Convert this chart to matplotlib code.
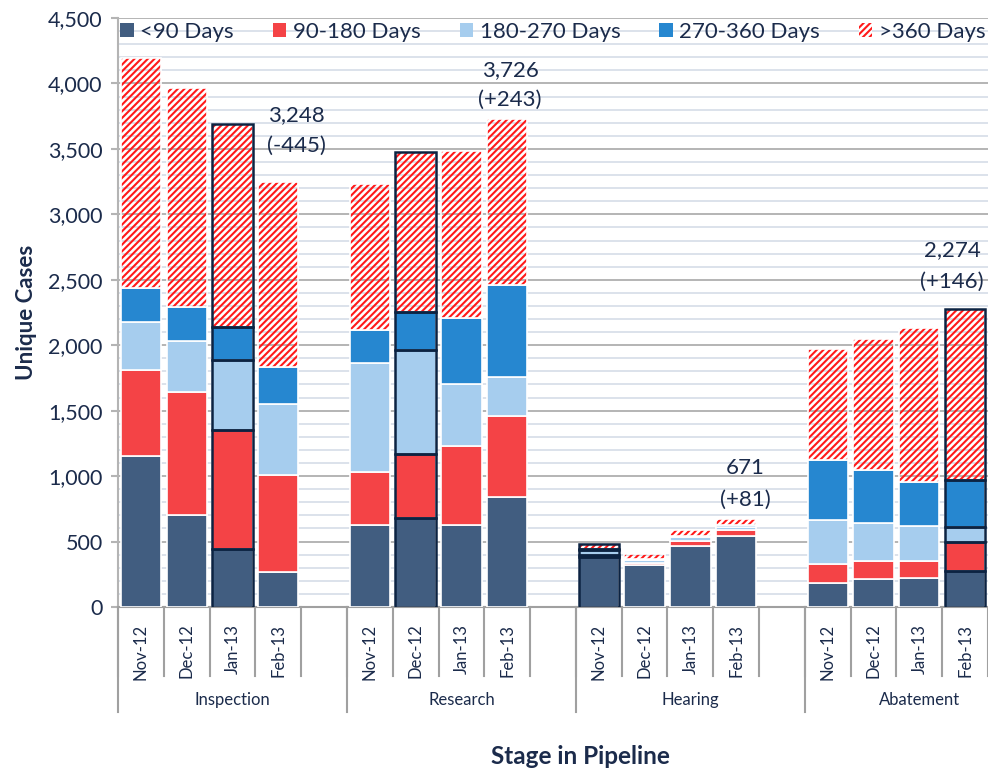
import matplotlib
matplotlib.use("Agg")
import matplotlib.pyplot as plt
import numpy as np
from matplotlib.patches import Patch

plt.rcParams['font.family'] = ['Lato', 'DejaVu Sans']
plt.rcParams['hatch.linewidth'] = 1.5

stages = ["Inspection", "Research", "Hearing", "Abatement"]
months = ["Nov-12", "Dec-12", "Jan-13", "Feb-13"]
series_names = ["<90 Days", "90-180 Days", "180-270 Days", "270-360 Days", ">360 Days"]

# values per stage, ordered Nov-12..Feb-13
lt90 = [1150, 702, 440, 268,   630, 681, 625, 839,   380, 321, 468, 540,   181, 214, 224, 275]
d90_180 = [657, 940, 910, 744,   400, 491, 605, 620,   15, 15, 40, 45,   145, 140, 130, 222]
d180_270 = [371, 394, 534, 539,   833, 791, 473, 300,   40, 20, 25, 25,   341, 288, 262, 116]
d270_360 = [262, 257, 254, 279,   252, 294, 503, 704,   10, 11, 12, 16,   458, 407, 336, 355]
gt360 = [1757, 1670, 1555, 1418,   1115, 1223, 1277, 1263,   34, 40, 45, 45,   848, 998, 1176, 1306]

# highlighted (outlined) bars: index into the 16 bars
highlighted = [2, 5, 8, 15]

# labels above the last month of each stage
label_totals = ["3,248", "3,726", "671", "2,274"]
label_changes = ["(-445)", "(+243)", "(+81)", "(+146)"]

colors = ["#415d80", "#f44346", "#a6cdee", "#2687d0", "#ff1a1a"]
navy = "#1b2b4b"
grid_major = "#b4b4b4"
grid_minor = "#d5dde8"
HATCH = "/////"

fig = plt.figure(figsize=(9.88, 7.72), dpi=100)
ax = fig.add_axes([118/988, (772-607)/772, 870/988, 589/772])

# slot positions: 5 slots per stage (4 months + gap)
pos = np.array([g*5 + m for g in range(len(stages)) for m in range(len(months))], dtype=float)
width = 0.88

data = [lt90, d90_180, d180_270, d270_360, gt360]
bottom = np.zeros(len(pos))
for i, vals in enumerate(data):
    vals = np.array(vals, dtype=float)
    if i < 4:
        ax.bar(pos, vals, width, bottom=bottom, color=colors[i], edgecolor="white",
               linewidth=1.2, zorder=3)
    else:
        ax.bar(pos, vals, width, bottom=bottom, facecolor="none", edgecolor=colors[i],
               hatch=HATCH, linewidth=0, zorder=3)
        ax.bar(pos, vals, width, bottom=bottom, facecolor="none", edgecolor="white",
               linewidth=1.2, zorder=3.5)
    # outlines for highlighted bars
    hp = pos[highlighted]
    ax.bar(hp, vals[highlighted], width, bottom=bottom[highlighted], facecolor="none",
           edgecolor="#0c2342", linewidth=1.8, zorder=4)
    bottom += vals

totals = bottom
# annotations
label_idx = [3, 7, 11, 15]
dx = [18, 3, 9, -13]
dy1 = [67, 49, 51, 59]
dy2 = [36, 19, 19, 27]
for k, bi in enumerate(label_idx):
    ax.annotate(label_totals[k], xy=(pos[bi], totals[bi]), xytext=(dx[k], dy1[k]),
                textcoords="offset pixels", ha="center", va="center", fontsize=16,
                color=navy, zorder=6)
    ax.annotate(label_changes[k], xy=(pos[bi], totals[bi]), xytext=(dx[k], dy2[k]),
                textcoords="offset pixels", ha="center", va="center", fontsize=16,
                color=navy, zorder=6)

ax.set_xlim(-0.5, 18.5)
ax.set_ylim(0, 4500)
ax.set_yticks(np.arange(0, 4501, 500))
ax.set_yticks(np.arange(0, 4501, 100), minor=True)
ax.set_yticklabels([f"{v:,}" for v in range(0, 4501, 500)], fontsize=15.5, color=navy)
ax.tick_params(axis="y", which="major", length=5, color=grid_major, width=1.5, pad=6)
ax.tick_params(axis="y", which="minor", length=0)
ax.grid(axis="y", which="major", color=grid_major, linewidth=1.4, zorder=0)
ax.grid(axis="y", which="minor", color=grid_minor, linewidth=1.2, zorder=0)
ax.set_axisbelow(True)

for s in ["top", "right"]:
    ax.spines[s].set_visible(False)
ax.spines["left"].set_color(grid_major)
ax.spines["left"].set_linewidth(1.5)
ax.spines["bottom"].set_color("#a0a0a0")
ax.spines["bottom"].set_linewidth(1.5)

ax.set_xticks(pos)
ax.set_xticklabels(months * len(stages), rotation=90, fontsize=12, color=navy,
                   va="top", ha="center")
ax.tick_params(axis="x", length=0, pad=12)

trans = ax.get_xaxis_transform()
h = 589.0
for b in np.arange(-0.5, 19, 1.0):
    ax.plot([b, b], [0, -69/h], transform=trans, color="#a0a0a0", lw=1.5, clip_on=False)
for b in np.arange(-0.5, 19, 5.0):
    ax.plot([b, b], [0, -105/h], transform=trans, color="#a0a0a0", lw=1.5, clip_on=False)
for g, st in enumerate(stages):
    ax.text(g*5 + 2.0, -93/h, st, transform=trans, ha="center", va="center",
            fontsize=12, color=navy)

ax.set_ylabel("Unique Cases", fontsize=16, fontweight="bold", color=navy, labelpad=8)
fig.text(580/988, 1 - 757/772, "Stage in Pipeline", ha="center", va="center",
         fontsize=17.5, fontweight="bold", color=navy)

handles = [Patch(facecolor=colors[i], edgecolor="none") for i in range(4)]
handles.append(Patch(facecolor="white", edgecolor=colors[4], hatch=HATCH, linewidth=0))
leg = ax.legend(handles, series_names, ncol=5, loc="center", bbox_to_anchor=(0.5, 1 - 14/589),
                frameon=False, fontsize=16, handlelength=0.6, handleheight=0.6,
                handletextpad=0.3, columnspacing=1.75, labelcolor=navy)
leg.set_zorder(7)

fig.savefig("out.png", dpi=100)
